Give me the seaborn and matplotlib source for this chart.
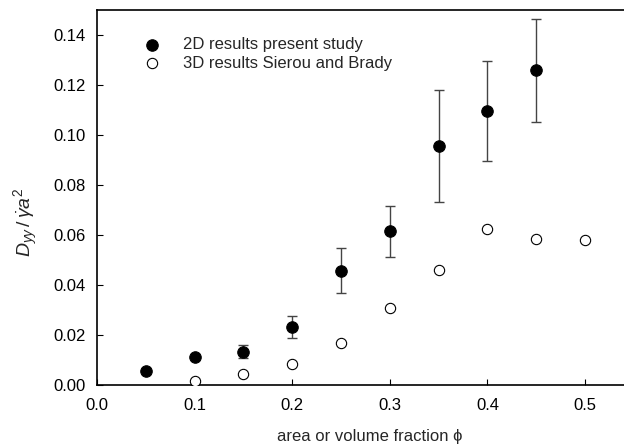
import matplotlib
matplotlib.use("Agg")
import matplotlib.pyplot as plt
import seaborn as sns
import pandas as pd

# Data
phi_2d = [0.05, 0.10, 0.15, 0.20, 0.25, 0.30, 0.35, 0.40, 0.45]
d_2d = [0.0058, 0.0112, 0.0133, 0.0232, 0.0456, 0.0616, 0.0956, 0.1096, 0.1259]
err_lo = [0.0058, 0.0112, 0.0110, 0.0190, 0.0367, 0.0512, 0.0730, 0.0896, 0.1053]
err_hi = [0.0058, 0.0112, 0.0160, 0.0275, 0.0546, 0.0716, 0.1180, 0.1296, 0.1462]

phi_3d = [0.10, 0.15, 0.20, 0.25, 0.30, 0.35, 0.40, 0.45, 0.50]
d_3d = [0.0015, 0.0045, 0.0083, 0.0169, 0.0309, 0.0460, 0.0622, 0.0585, 0.0580]

label_2d = "2D results present study"
label_3d = "3D results Sierou and Brady"
x_ticks = [0.0, 0.1, 0.2, 0.3, 0.4, 0.5]
y_ticks = [0.00, 0.02, 0.04, 0.06, 0.08, 0.10, 0.12, 0.14]

sns.set_theme(style="white")
plt.rcParams['font.family'] = ['Liberation Sans', 'DejaVu Sans']
plt.rcParams['mathtext.fontset'] = 'custom'
plt.rcParams['mathtext.it'] = 'Liberation Sans:italic'
plt.rcParams['mathtext.rm'] = 'Liberation Sans'

fig = plt.figure(figsize=(6.24, 4.48), dpi=100)
ax = fig.add_axes([97/624, 1 - 385/448, 1 - 97/624, (385 - 10)/448])

df2 = pd.DataFrame({"phi": phi_2d, "D": d_2d, "lo": err_lo, "hi": err_hi})
df3 = pd.DataFrame({"phi": phi_3d, "D": d_3d})

# error bars
yerr = [[d - l for d, l in zip(d_2d, err_lo)], [h - d for d, h in zip(d_2d, err_hi)]]
ax.errorbar(phi_2d, d_2d, yerr=yerr, fmt='none', ecolor='#444444',
            elinewidth=1.0, capsize=3.5, capthick=1.0, zorder=2)

sns.scatterplot(data=df2, x="phi", y="D", ax=ax, marker='o', s=68,
                color='black', edgecolor='black', linewidth=0.8,
                label=label_2d, zorder=3)
sns.scatterplot(data=df3, x="phi", y="D", ax=ax, marker='o', s=55,
                facecolor='white', edgecolor='black', linewidth=0.8,
                label=label_3d, zorder=3)

ax.set_xlim(0, (624 - 97) / 976)
ax.set_ylim(0, 0.15)
ax.set_xticks(x_ticks)
ax.set_xticklabels([f"{t:.1f}" for t in x_ticks])
ax.set_yticks(y_ticks)
ax.set_yticklabels([f"{t:.2f}" for t in y_ticks])
ax.tick_params(axis='both', direction='in', length=4, width=0.8, colors='black',
               labelsize=12, pad=8, bottom=True, left=True)
ax.tick_params(axis='x', pad=9)

for s in ['left', 'bottom', 'top']:
    ax.spines[s].set_visible(True)
    ax.spines[s].set_color('black')
    ax.spines[s].set_linewidth(1.2)
ax.spines['right'].set_visible(False)

ax.set_xlabel("area or volume fraction ϕ", fontsize=12)
ax.xaxis.set_label_coords((370 - 97) / 527, -(429 - 385) / 375)
ax.set_ylabel(r"$D_{yy}\,/\,\dot{\gamma}a^2$", fontsize=14)
ax.yaxis.set_label_coords(-(97 - 40) / 527, (385 - 222) / 375)

leg = ax.legend(loc='upper left', bbox_to_anchor=(0.06, 0.945), frameon=False,
                fontsize=12, handletextpad=0.85, labelspacing=0.2,
                borderaxespad=0)

fig.savefig("out.png", dpi=100)
